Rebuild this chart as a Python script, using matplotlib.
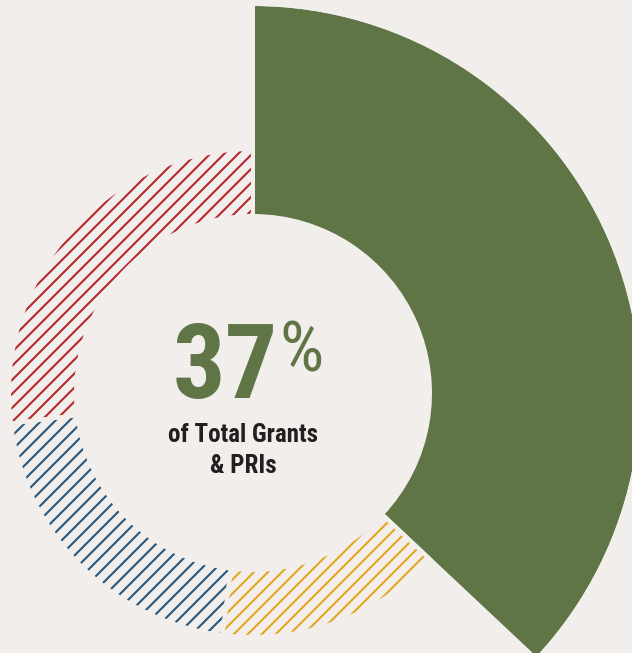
import matplotlib
matplotlib.use('Agg')
import matplotlib.pyplot as plt
from matplotlib import font_manager

# --- DATA ---
shares = [37, 15, 21, 27]          # clockwise from 12 o'clock
colors = ['#5f7546', '#e2a520', '#28587e', '#b5282e']
hatches = [None, '//', '//', '//']
headline = '37'
subtitle = ['of Total Grants', '& PRIs']

# --- CONFIG ---
W, H, DPI = 632, 653, 84
bg = '#f1eeeb'
ink = '#231f20'
cx, cy = 253, H - 393
r_ring, r_hole, r_big = 244, 177, 387


def px2pt(px):
    return px * 72 / DPI


names = {f.name for f in font_manager.fontManager.ttflist}
fam, stretch = 'DejaVu Sans', 'normal'
for cand in ['Roboto Condensed', 'Liberation Sans Narrow']:
    if cand in names:
        fam = cand
        break
else:
    if any(f.name == 'DejaVu Sans' and f.stretch == 'condensed' for f in font_manager.fontManager.ttflist):
        stretch = 'condensed'

plt.rcParams['hatch.linewidth'] = 1.8

fig = plt.figure(figsize=(W / DPI, H / DPI), dpi=DPI, facecolor=bg)
ax = fig.add_axes([0, 0, 1, 1])
ax.set_facecolor(bg)

wedges, _ = ax.pie(shares, startangle=90, counterclock=False, radius=r_ring,
                   center=(cx, cy), wedgeprops=dict(width=r_ring - r_hole, linewidth=0))
for w, c, h in zip(wedges, colors, hatches):
    if h:
        w.set_facecolor(bg)
        w.set_edgecolor(c)
        w.set_hatch(h)
    else:
        w.set_facecolor(c)
        w.set_edgecolor(c)
        w.set_radius(r_big)
        w.set_width(r_big - r_hole)

# thin background gaps between the segments
gaps, _ = ax.pie(shares, startangle=90, counterclock=False, radius=r_ring,
                 center=(cx, cy), colors=['none'] * len(shares),
                 wedgeprops=dict(width=r_ring - r_hole, linewidth=px2pt(4), edgecolor=bg))
for g, h in zip(gaps, hatches):
    if not h:
        g.set_radius(r_big + 2)
        g.set_width(r_big + 2 - r_hole)

ax.set_xlim(0, W)
ax.set_ylim(0, H)
ax.set_aspect('equal')
ax.axis('off')

# --- CENTER TEXT ---
ax.text(278, H - 398, headline, ha='right', va='baseline', color=colors[0],
        fontsize=px2pt(104), fontweight='bold', family=fam, fontstretch=stretch)
ax.text(279, H - 318, '%', ha='left', va='top', color=colors[0],
        fontsize=px2pt(70), fontweight='normal', family=fam, fontstretch=stretch)
for i, line in enumerate(subtitle):
    ax.text(243, H - 442 - 31 * i, line, ha='center', va='baseline', color=ink,
            fontsize=px2pt(25), fontweight='bold', family=fam, fontstretch=stretch)

plt.savefig('out.png', dpi=DPI, facecolor=bg)
